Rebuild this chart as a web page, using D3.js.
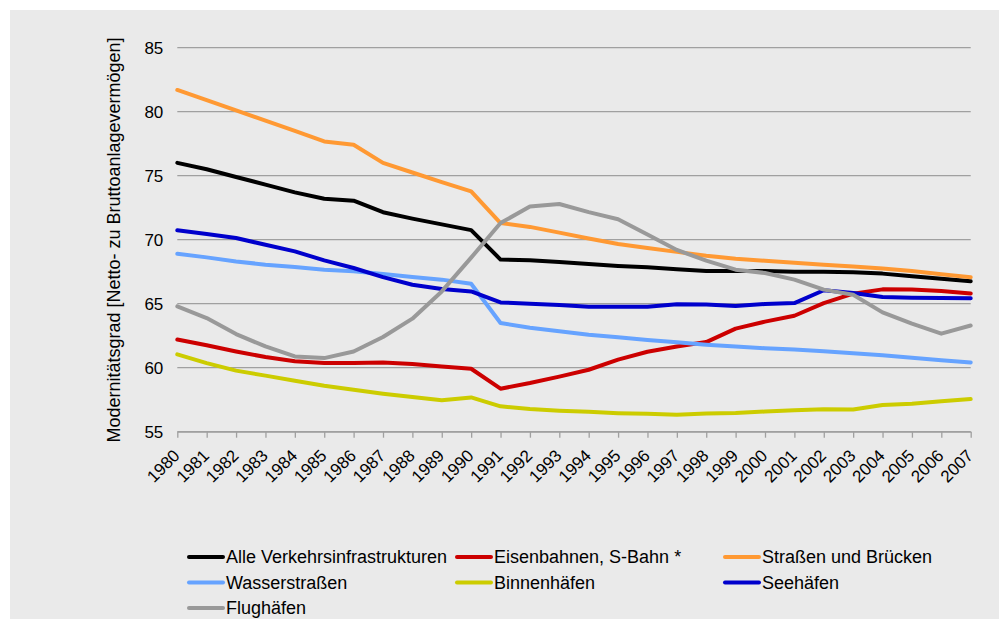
<!DOCTYPE html>
<html>
<head>
<meta charset="utf-8">
<script src="https://cdn.jsdelivr.net/npm/d3@7"></script>
<style>
  body { margin: 0; background: #fff; }
  text { font-family: Arial, "Liberation Sans", sans-serif; fill: #000; }
</style>
</head>
<body>
<svg id="chart" width="999" height="619"></svg>
<script>
// years on the x axis
var years = [1980, 1981, 1982, 1983, 1984, 1985, 1986, 1987, 1988, 1989,
  1990, 1991, 1992, 1993, 1994, 1995, 1996, 1997, 1998, 1999,
  2000, 2001, 2002, 2003, 2004, 2005, 2006, 2007];

var yTicks = [55, 60, 65, 70, 75, 80, 85];

var seriesNames = ["Alle Verkehrsinfrastrukturen", "Eisenbahnen, S-Bahn *", "Straßen und Brücken",
  "Wasserstraßen", "Binnenhäfen", "Seehäfen", "Flughäfen"];
var seriesColors = ["#000000", "#cc0000", "#ff9933", "#66a3ff", "#cccc00", "#0000cc", "#999999"];

// Modernitätsgrad values
var alle = [76.0, 75.5, 74.9, 74.3, 73.7, 73.2, 73.05, 72.15, 71.65, 71.2,
  70.75, 68.45, 68.4, 68.25, 68.1, 67.95, 67.85, 67.7, 67.55, 67.55,
  67.55, 67.5, 67.5, 67.45, 67.35, 67.15, 66.95, 66.75];
var eisenbahn = [62.2, 61.75, 61.27, 60.83, 60.5, 60.36, 60.36, 60.4, 60.28, 60.1,
  59.92, 58.36, 58.8, 59.3, 59.84, 60.63, 61.25, 61.66, 62.0, 63.05,
  63.6, 64.06, 65.05, 65.78, 66.12, 66.1, 66.0, 65.8];
var strassen = [81.7, 80.9, 80.1, 79.3, 78.5, 77.68, 77.42, 76.0, 75.25, 74.5,
  73.77, 71.3, 71.0, 70.55, 70.1, 69.66, 69.35, 69.05, 68.75, 68.52,
  68.35, 68.2, 68.05, 67.9, 67.75, 67.55, 67.3, 67.06];
var wasser = [68.9, 68.62, 68.3, 68.05, 67.86, 67.66, 67.53, 67.32, 67.09, 66.88,
  66.56, 63.49, 63.12, 62.85, 62.58, 62.37, 62.17, 61.98, 61.8, 61.65,
  61.52, 61.42, 61.28, 61.12, 60.97, 60.78, 60.58, 60.41];
var binnen = [61.04, 60.36, 59.77, 59.38, 58.98, 58.59, 58.28, 57.97, 57.71, 57.45,
  57.68, 56.98, 56.78, 56.64, 56.55, 56.45, 56.4, 56.33, 56.42, 56.46,
  56.58, 56.68, 56.75, 56.74, 57.09, 57.19, 57.37, 57.55];
var seehafen = [70.73, 70.45, 70.13, 69.6, 69.09, 68.38, 67.79, 67.08, 66.48, 66.15,
  65.96, 65.1, 65.0, 64.9, 64.77, 64.77, 64.77, 64.95, 64.93, 64.82,
  64.98, 65.05, 66.05, 65.83, 65.52, 65.47, 65.45, 65.43];
var flughafen = [64.79, 63.88, 62.63, 61.66, 60.88, 60.75, 61.27, 62.4, 63.83, 65.96,
  68.6, 71.3, 72.6, 72.79, 72.15, 71.6, 70.4, 69.2, 68.36, 67.66,
  67.4, 66.88, 66.1, 65.7, 64.32, 63.44, 62.66, 63.3];

var seriesValues = [alle, eisenbahn, strassen, wasser, binnen, seehafen, flughafen];

var svg = d3.select("#chart");
var width = +svg.attr("width"),
  height = +svg.attr("height");

// grey chart area
svg.append("rect")
  .attr("x", 10).attr("y", 10)
  .attr("width", width - 10).attr("height", height - 10)
  .attr("fill", "#eaeaea");

var margin = { left: 177.3, right: 970.7, top: 47.7, bottom: 431.7 };

var x = d3.scalePoint()
  .domain(years)
  .range([margin.left, margin.right]);

var y = d3.scaleLinear()
  .domain([55, 85])
  .range([margin.bottom, margin.top]);

// horizontal grid lines
svg.append("g")
  .selectAll("line")
  .data(yTicks)
  .enter()
  .append("line")
  .attr("x1", margin.left)
  .attr("x2", margin.right)
  .attr("y1", function(d) { return y(d); })
  .attr("y2", function(d) { return y(d); })
  .attr("stroke", "#a0a0a0")
  .attr("stroke-width", 1.3);

// y axis labels, no axis line
var yAxis = svg.append("g")
  .attr("transform", "translate(" + (margin.left - 14) + ",0)")
  .call(d3.axisLeft(y).tickValues(yTicks).tickSize(0).tickPadding(0));
yAxis.select(".domain").remove();
yAxis.selectAll("text")
  .attr("font-size", 17)
  .attr("font-family", "Arial, 'Liberation Sans', sans-serif")
  .attr("fill", "#000");

// x axis with tick marks at each year
var xAxis = svg.append("g")
  .attr("transform", "translate(0," + margin.bottom + ")")
  .call(d3.axisBottom(x).tickSize(6).tickSizeOuter(0));
xAxis.select(".domain").attr("stroke", "#a0a0a0").attr("stroke-width", 1.3);
xAxis.selectAll(".tick line").attr("stroke", "#a0a0a0").attr("stroke-width", 1.3);
xAxis.selectAll("text")
  .attr("font-size", 17)
  .attr("font-family", "Arial, 'Liberation Sans', sans-serif")
  .attr("fill", "#000")
  .attr("text-anchor", "end")
  .attr("dy", 0)
  .attr("y", 0)
  .attr("transform", "translate(3,25) rotate(-45)");

// y axis title
svg.append("text")
  .attr("transform", "translate(120,240) rotate(-90)")
  .attr("text-anchor", "middle")
  .attr("font-size", 18)
  .text("Modernitätsgrad [Netto- zu Bruttoanlagevermögen]");

// the lines
var line = d3.line()
  .x(function(d, i) { return x(years[i]); })
  .y(function(d) { return y(d); });

svg.append("g")
  .selectAll("path")
  .data(seriesValues)
  .enter()
  .append("path")
  .attr("d", line)
  .attr("fill", "none")
  .attr("stroke", function(d, i) { return seriesColors[i]; })
  .attr("stroke-width", 4)
  .attr("stroke-linejoin", "round")
  .attr("stroke-linecap", "round");

// legend: 3 columns, row by row
var legend = svg.append("g")
  .selectAll("g")
  .data(seriesNames)
  .enter()
  .append("g")
  .attr("transform", function(d, i) {
    var col = i % 3, row = Math.floor(i / 3);
    return "translate(" + (189 + col * 268) + "," + (557 + row * 25.5) + ")";
  });

legend.append("line")
  .attr("x1", 0).attr("x2", 34)
  .attr("stroke", function(d, i) { return seriesColors[i]; })
  .attr("stroke-width", 4)
  .attr("stroke-linecap", "round");

legend.append("text")
  .attr("x", 37)
  .attr("dy", "0.35em")
  .attr("font-size", 18)
  .text(function(d) { return d; });
</script>
</body>
</html>
